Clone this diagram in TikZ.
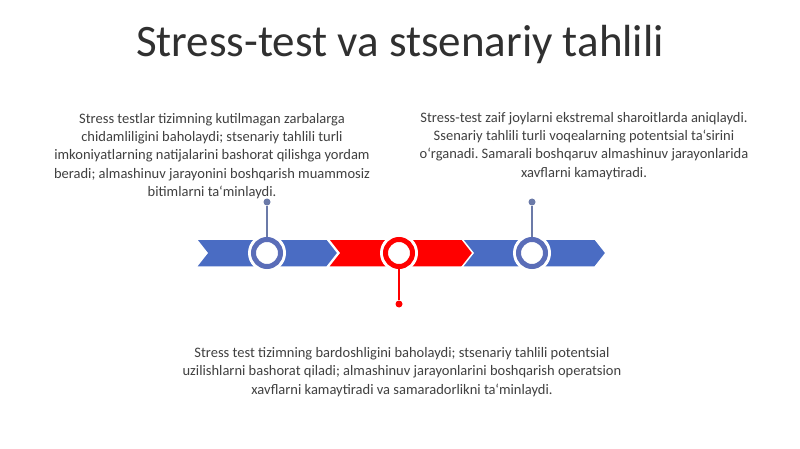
\documentclass[tikz,border=0pt]{standalone}
\usepackage{fontspec}
\setmainfont{Carlito}
\frenchspacing
\definecolor{segblue}{HTML}{4A6CC3}
\definecolor{ringblue}{HTML}{5A6DB8}
\definecolor{stemblue}{HTML}{6B7AA8}
\definecolor{segred}{HTML}{FF0000}
\definecolor{txt}{HTML}{404040}
\definecolor{ttl}{HTML}{303030}
\begin{document}
\begin{tikzpicture}[x=1pt,y=-1pt,
  seg/.style={draw=white,line width=1.5pt,line join=miter},
  halo/.style={circle,fill=white,minimum size=38pt,inner sep=0pt},
  ring/.style={circle,fill=white,draw=#1,line width=5pt,minimum size=27pt,inner sep=0pt},
  dot/.style={circle,fill=#1,minimum size=7pt,inner sep=0pt},
  stem/.style={draw=#1,line width=1.3pt},
  body/.style={align=center,text=txt,font=\fontsize{14.5}{18.2}\selectfont\frenchspacing,inner sep=0pt}]
\useasboundingbox[fill=white] (0,0) rectangle (800,449);
% title
\node[text=ttl,font=\fontsize{45}{50}\selectfont,inner sep=0pt] (title) at (400,45) {Stress-test va stsenariy tahlili};
% chevrons
\fill[segblue,seg] (196,239) -- (327,239) -- (338,253) -- (327,267) -- (196,267) -- (207,253) -- cycle;
\fill[segred,seg] (328,239) -- (463,239) -- (474,253) -- (463,267) -- (328,267) -- (339,253) -- cycle;
\fill[segblue,seg] (462,239) -- (595,239) -- (606,253) -- (595,267) -- (462,267) -- (473,253) -- cycle;
% halos and rings
\node[halo] (h1) at (267,253) {};
\node[halo] (h2) at (399,253) {};
\node[halo] (h3) at (532,253) {};
\node[dot=stemblue] (d1) at (267,202) {};
\node[dot=segred] (d2) at (399,304) {};
\node[dot=stemblue] (d3) at (532,202) {};
\node[ring=ringblue] (c1) at (267,253) {};
\node[ring=segred] (c2) at (399,253) {};
\node[ring=ringblue] (c3) at (532,253) {};
\draw[stem=stemblue] (d1) -- (c1);
\draw[stem=segred] (d2) -- (c2);
\draw[stem=stemblue] (d3) -- (c3);
% texts
\node[body] (t1) at (212,156) {Stress testlar tizimning kutilmagan zarbalarga\\chidamliligini baholaydi; stsenariy tahlili turli\\imkoniyatlarning natijalarini bashorat qilishga yordam\\beradi; almashinuv jarayonini boshqarish muammosiz\\bitimlarni ta‘minlaydi.};
\node[body] (t3) at (584,146) {Stress-test zaif joylarni ekstremal sharoitlarda aniqlaydi.\\Ssenariy tahlili turli voqealarning potentsial ta‘sirini\\o‘rganadi. Samarali boshqaruv almashinuv jarayonlarida\\xavflarni kamaytiradi.};
\node[body] (t2) at (402,372) {Stress test tizimning bardoshligini baholaydi; stsenariy tahlili potentsial\\uzilishlarni bashorat qiladi; almashinuv jarayonlarini boshqarish operatsion\\xavflarni kamaytiradi va samaradorlikni ta‘minlaydi.};
\end{tikzpicture}
\end{document}
